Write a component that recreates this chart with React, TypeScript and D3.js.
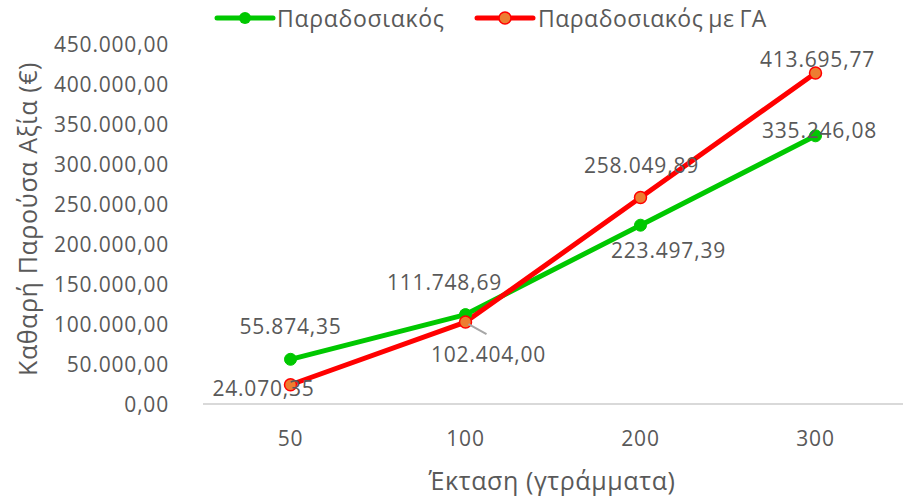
import React from "react";
import * as d3 from "d3";

const categories = ["50", "100", "200", "300"];
const seriesNames = ["Παραδοσιακός", "Παραδοσιακός με ΓΑ"];
const traditional = [55874.35, 111748.69, 223497.39, 335246.08];
const withGA = [24070.35, 102404.0, 258049.89, 413695.77];
const yTicks = [0, 50000, 100000, 150000, 200000, 250000, 300000, 350000, 400000, 450000];
const yTitle = "Καθαρή Παρούσα Αξία (€)";
const xTitle = "Έκταση (γτράμματα)";

// label offsets (style), relative to the point
const greenOffsets = [[0, -33], [-21, -33], [28, 25], [4, -6]];
const redOffsets = [[-27, 3], [23, 32], [1, -33], [2, -14]];

const W = 903, H = 497;
const FONT = "'Open Sans', sans-serif";
const TEXT = "#595959";
const GREEN = "#00c800";
const RED = "#ff0000";
const ORANGE = "#ed7d31";

const loc = d3.formatLocale({ decimal: ",", thousands: ".", grouping: [3], currency: ["", "€"] });
const fmt = loc.format(",.2f");

export default function App() {
  const x = d3.scaleBand().domain(categories).range([203, 903]);
  const y = d3.scaleLinear().domain([0, 450000]).range([404, 44]);
  const cx = (c: string) => (x(c) as number) + x.bandwidth() / 2;
  const line = d3.line<number>().x((_, i) => cx(categories[i])).y((d) => y(d));
  const fs = 21;
  const ls = 0.8;

  return (
    <svg width={W} height={H} style={{ position: "absolute", left: 0, top: 0, background: "#fff" }} fontFamily={FONT}>
      {/* axis line */}
      <line x1={203} x2={903} y1={y(0)} y2={y(0)} stroke="#d9d9d9" strokeWidth={2} />
      {/* y ticks */}
      {yTicks.map((t) => (
        <text key={t} x={169} y={y(t)} textAnchor="end" dominantBaseline="central" fontSize={fs} letterSpacing={ls} fill={TEXT}>
          {fmt(t)}
        </text>
      ))}
      {/* x ticks */}
      {categories.map((c) => (
        <text key={c} x={cx(c)} y={438} textAnchor="middle" dominantBaseline="central" fontSize={fs} letterSpacing={ls} fill={TEXT}>
          {c}
        </text>
      ))}
      {/* titles */}
      <text transform={`translate(27,219) rotate(-90)`} textAnchor="middle" dominantBaseline="central" fontSize={25} letterSpacing={0.6} fill={TEXT}>
        {yTitle}
      </text>
      <text x={552} y={480} textAnchor="middle" dominantBaseline="central" fontSize={25} letterSpacing={0.6} fill={TEXT}>
        {xTitle}
      </text>
      {/* lines */}
      <path d={line(traditional) || ""} fill="none" stroke={GREEN} strokeWidth={5} strokeLinejoin="round" strokeLinecap="round" />
      <path d={line(withGA) || ""} fill="none" stroke={RED} strokeWidth={5} strokeLinejoin="round" strokeLinecap="round" />
      {traditional.map((v, i) => (
        <circle key={"g" + i} cx={cx(categories[i])} cy={y(v)} r={6} fill={GREEN} stroke={GREEN} strokeWidth={1} />
      ))}
      {withGA.map((v, i) => (
        <circle key={"r" + i} cx={cx(categories[i])} cy={y(v)} r={6} fill={ORANGE} stroke={RED} strokeWidth={1.5} />
      ))}
      {/* leader line */}
      <line x1={cx(categories[1]) + 3} y1={y(withGA[1]) + 2} x2={cx(categories[1]) + 21} y2={y(withGA[1]) + 12} stroke="#a6a6a6" strokeWidth={2} />
      {/* data labels */}
      {traditional.map((v, i) => (
        <text key={"gl" + i} x={cx(categories[i]) + greenOffsets[i][0]} y={y(v) + greenOffsets[i][1]} textAnchor="middle" dominantBaseline="central" fontSize={fs} letterSpacing={ls} fill={TEXT}>
          {fmt(v)}
        </text>
      ))}
      {withGA.map((v, i) => (
        <text key={"rl" + i} x={cx(categories[i]) + redOffsets[i][0]} y={y(v) + redOffsets[i][1]} textAnchor="middle" dominantBaseline="central" fontSize={fs} letterSpacing={ls} fill={TEXT}>
          {fmt(v)}
        </text>
      ))}
      {/* legend */}
      <line x1={217} x2={273} y1={18} y2={18} stroke={GREEN} strokeWidth={5} strokeLinecap="round" />
      <circle cx={245} cy={18} r={6} fill={GREEN} />
      <text x={277} y={18} dominantBaseline="central" fontSize={23} letterSpacing={0.7} fill={TEXT}>{seriesNames[0]}</text>
      <line x1={477} x2={533} y1={18} y2={18} stroke={RED} strokeWidth={5} strokeLinecap="round" />
      <circle cx={505} cy={18} r={6} fill={ORANGE} stroke={RED} strokeWidth={1.5} />
      <text x={538} y={18} dominantBaseline="central" fontSize={23} letterSpacing={0.5} wordSpacing={-1.5} fill={TEXT}>{seriesNames[1]}</text>
    </svg>
  );
}
